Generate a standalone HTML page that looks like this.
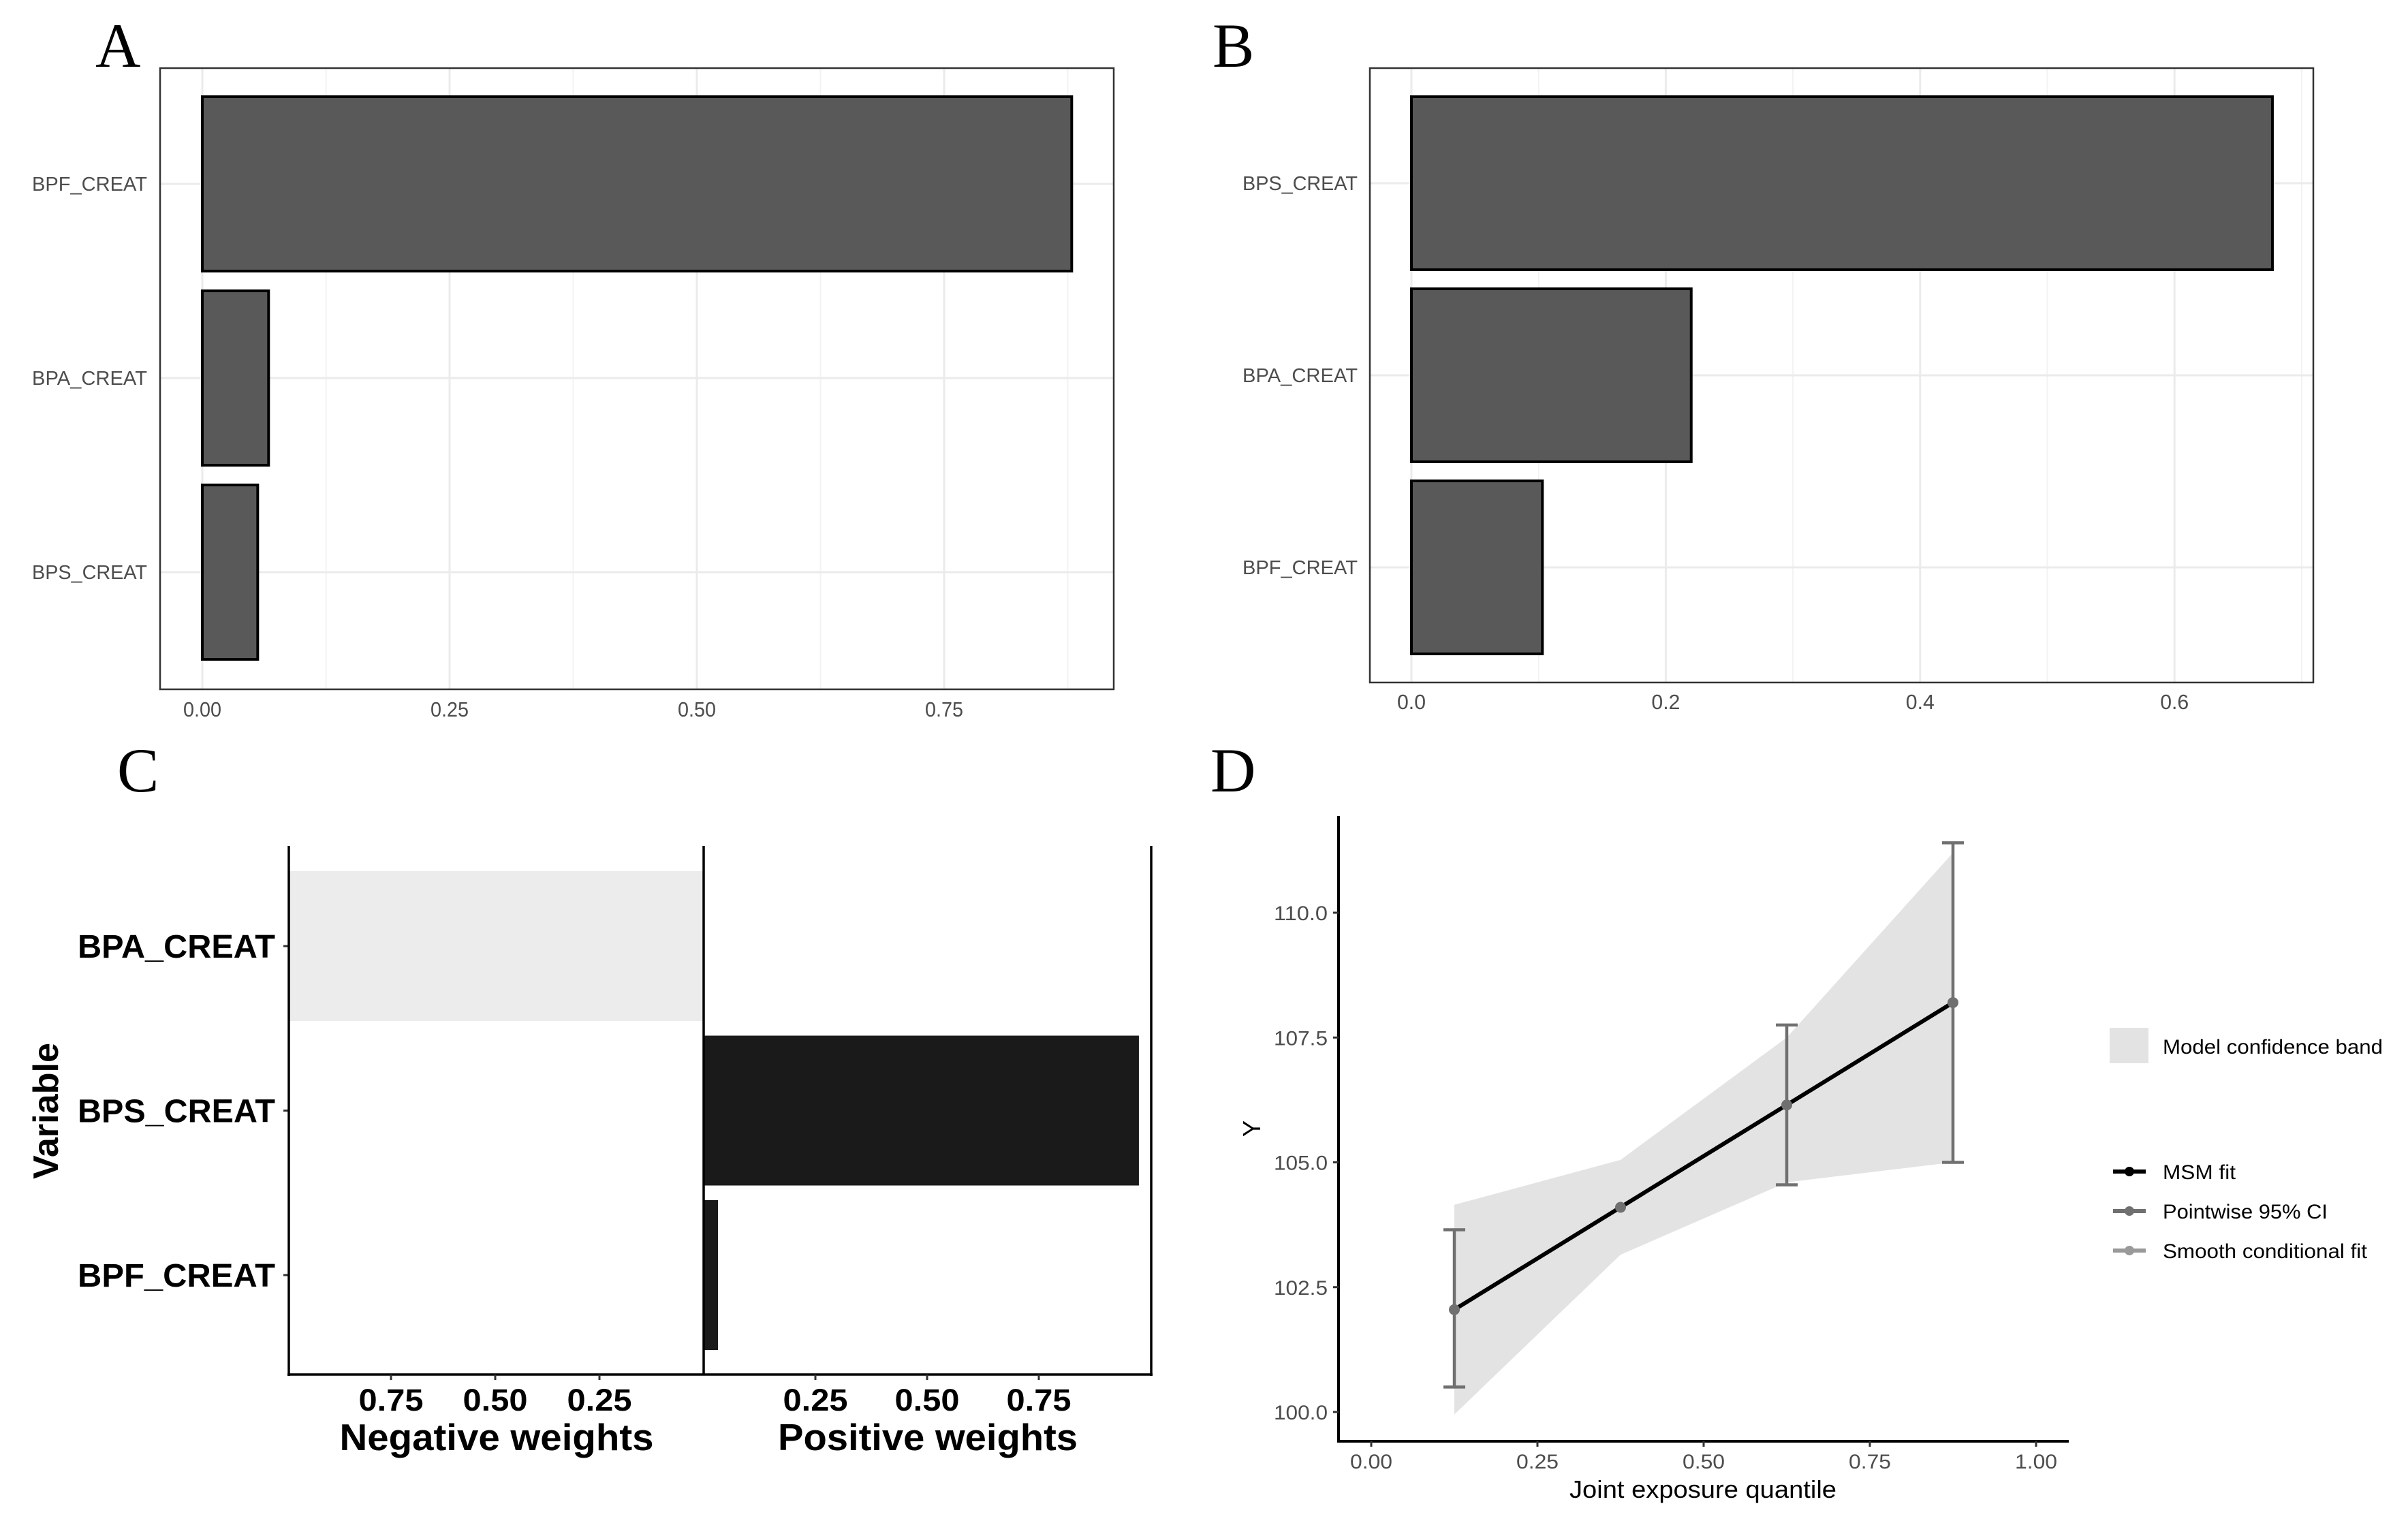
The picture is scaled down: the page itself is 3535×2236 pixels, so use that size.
<!DOCTYPE html>
<html><head><meta charset="utf-8"><style>
html,body{margin:0;padding:0;background:#fff}
svg{display:block}
text{font-family:"Liberation Sans",sans-serif}
</style></head><body>
<svg id="fig" width="3535" height="2236" viewBox="0 0 3535 2236" xmlns="http://www.w3.org/2000/svg">
<rect width="3535" height="2236" fill="#fff"/>
<text x="140" y="98" font-size="92" style="font-family:'Liberation Serif',serif">A</text>
<text x="1780" y="98" font-size="92" style="font-family:'Liberation Serif',serif">B</text>
<text x="172" y="1162" font-size="92" style="font-family:'Liberation Serif',serif">C</text>
<text x="1777" y="1162" font-size="92" style="font-family:'Liberation Serif',serif">D</text>
<g id="pa"></g>
<g id="pb"></g>
<g id="pc"></g>
<g id="pd"></g>
</svg>
<script>
// Panel A data
const aCats = ["BPF_CREAT","BPA_CREAT","BPS_CREAT"];
const aVals = [0.879, 0.067, 0.056];
const aTicks = [0, 0.25, 0.5, 0.75];
const aTickLabels = ["0.00","0.25","0.50","0.75"];
// Panel B data
const bCats = ["BPS_CREAT","BPA_CREAT","BPF_CREAT"];
const bVals = [0.677, 0.22, 0.103];
const bTicks = [0, 0.2, 0.4, 0.6];
const bTickLabels = ["0.0","0.2","0.4","0.6"];
// Panel C data
const cCats = ["BPA_CREAT","BPS_CREAT","BPF_CREAT"];
const cNeg = [0.995, 0, 0];
const cPos = [0, 0.974, 0.032];
const cTicks = [0.25, 0.5, 0.75];
const cTickLabels = ["0.25","0.50","0.75"];
// Panel D data
const dQ = [0.125, 0.375, 0.625, 0.875];
const dFit = [102.05, 104.1, 106.15, 108.2];
const dCiLo = [100.5, null, 104.55, 105.0];
const dCiHi = [103.65, null, 107.75, 111.4];
const dBandQ = [0.125, 0.375, 0.625, 0.875];
const dBandLo = [99.95, 103.15, 104.6, 105.0];
const dBandHi = [104.15, 105.05, 107.5, 111.2];
const dXTicks = [0, 0.25, 0.5, 0.75, 1.0];
const dXTickLabels = ["0.00","0.25","0.50","0.75","1.00"];
const dYTicks = [100, 102.5, 105, 107.5, 110];
const dYTickLabels = ["100.0","102.5","105.0","107.5","110.0"];

const NS="http://www.w3.org/2000/svg";
function mk(parent, tag, attrs, txt){
  const e=document.createElementNS(NS,tag);
  for(const k in attrs) e.setAttribute(k, attrs[k]);
  if(txt!==undefined) e.textContent=txt;
  parent.appendChild(e); return e;
}

function barPanel(g, cats, vals, ticks, tlabels, box, x0, perUnit, catY, halfH, labelRight, tickY, minorStep){
  const X=v=>x0+v*perUnit;
  const Y=i=>catY[0]+i*(catY[1]-catY[0]);
  for(let v=minorStep; X(v)<box.r; v+=minorStep*2){
    const l=mk(g,'line',{x1:X(v),x2:X(v),y1:box.t,y2:box.b,stroke:'#f3f3f3','stroke-width':2});
    
    
  }
  ticks.forEach((t,i)=>{
    const l=mk(g,'line',{x1:X(t),x2:X(t),y1:box.t,y2:box.b,stroke:'#ebebeb','stroke-width':3});
    
    
    const tx=mk(g,'text',{x:X(t),y:tickY,'text-anchor':'middle','font-size':31,fill:'#4d4d4d',textLength:tlabels[i].length*14,lengthAdjust:'spacingAndGlyphs'},tlabels[i]);
    
    
  });
  cats.forEach((c,i)=>{
    const l=mk(g,'line',{x1:box.l,x2:box.r,y1:Y(i),y2:Y(i),stroke:'#ebebeb','stroke-width':3});
    
    
  });
  cats.forEach((c,i)=>{
    const r=mk(g,'rect',{x:X(0),y:Y(i)-halfH,width:X(vals[i])-X(0),height:2*halfH,fill:'#595959',stroke:'#000','stroke-width':4});
    
    
    const tx=mk(g,'text',{x:labelRight,y:Y(i)+10,'text-anchor':'end','font-size':29,fill:'#4d4d4d',textLength:169,lengthAdjust:'spacingAndGlyphs'},c);
    
    
  });
  const b=mk(g,'rect',{x:box.l,y:box.t,width:box.r-box.l,height:box.b-box.t,fill:'none',stroke:'#333','stroke-width':2.5});
  
  
}
barPanel(document.getElementById('pa'), aCats, aVals, aTicks, aTickLabels,
  {l:235,t:100,r:1635,b:1012}, 297, 1452, [270,555], 128, 216, 1052, 0.125);
barPanel(document.getElementById('pb'), bCats, bVals, bTicks, bTickLabels,
  {l:2011,t:100,r:3396,b:1002}, 2072, 1867, [269,551], 127, 1993, 1041, 0.1);

// Panel C
(function(){
  const g=document.getElementById('pc');
  const mid=1033, negPer=612, posPer=656;
  const XN=v=>mid-v*negPer, XP=v=>mid+v*posPer;
  const Y=i=>1389+i*241.5;
  const hh=110;
  cCats.forEach((c,i)=>{
    if(cNeg[i]>0){
      const r=mk(g,'rect',{x:XN(cNeg[i]),y:Y(i)-hh,width:XN(0)-XN(cNeg[i]),height:2*hh,fill:'#ececec'});
      
      
    }
    if(cPos[i]>0){
      const r=mk(g,'rect',{x:XP(0),y:Y(i)-hh,width:XP(cPos[i])-XP(0),height:2*hh,fill:'#1a1a1a'});
      
      
    }
    const tk=mk(g,'line',{x1:416,x2:424,y1:Y(i),y2:Y(i),stroke:'#333','stroke-width':3});
    
    
    const tx=mk(g,'text',{x:404,y:Y(i)+17,'text-anchor':'end','font-size':48,'font-weight':'bold',fill:'#000',textLength:290,lengthAdjust:'spacingAndGlyphs'},c);
    
    
  });
  [[424,1242,424,2020],[1033,1242,1033,2018],[1690,1242,1690,2020],[422,2018,1692,2018]].forEach(a=>{
    const l=mk(g,'line',{x1:a[0],y1:a[1],x2:a[2],y2:a[3],stroke:'#000','stroke-width':3.5});
    
    
  });
  cTicks.forEach((t,i)=>{
    [XN(t),XP(t)].forEach(x=>{
      const l=mk(g,'line',{x1:x,x2:x,y1:2018,y2:2026,stroke:'#333','stroke-width':3});
      
      
      const tx=mk(g,'text',{x:x,y:2071,'text-anchor':'middle','font-size':45,'font-weight':'bold',fill:'#000',textLength:95,lengthAdjust:'spacingAndGlyphs'},cTickLabels[i]);
      
      
    });
  });
  let t=mk(g,'text',{x:729,y:2129,'text-anchor':'middle','font-size':55,'font-weight':'bold',textLength:461,lengthAdjust:'spacingAndGlyphs'},'Negative weights');
  
  
  t=mk(g,'text',{x:1362,y:2129,'text-anchor':'middle','font-size':55,'font-weight':'bold',textLength:440,lengthAdjust:'spacingAndGlyphs'},'Positive weights');
  
  
  t=mk(g,'text',{x:0,y:0,'text-anchor':'middle','font-size':52,'font-weight':'bold',textLength:200,lengthAdjust:'spacingAndGlyphs',transform:'translate(85,1631) rotate(-90)'},'Variable');
  
  
})();

// Panel D
(function(){
  const g=document.getElementById('pd');
  const X=v=>2013+v*976, Y=v=>2073-(v-100)*73.3;
  let pts=dBandQ.map((q,i)=>X(q)+','+Y(dBandHi[i]));
  pts=pts.concat(dBandQ.map((q,i)=>X(q)+','+Y(dBandLo[i])).reverse());
  const band=mk(g,'polygon',{points:pts.join(' '),fill:'#e3e3e3'});
  
  
  dQ.forEach((q,i)=>{
    if(dCiLo[i]===null) return;
    const x=X(q);
    const l=mk(g,'path',{d:`M${x},${Y(dCiLo[i])}V${Y(dCiHi[i])}M${x-16},${Y(dCiLo[i])}h32M${x-16},${Y(dCiHi[i])}h32`,stroke:'#707070','stroke-width':4.5,fill:'none'});
    
    
  });
  const line=mk(g,'polyline',{points:dQ.map((q,i)=>X(q)+','+Y(dFit[i])).join(' '),fill:'none',stroke:'#000','stroke-width':6});
  
  
  dQ.forEach((q,i)=>{
    const c=mk(g,'circle',{cx:X(q),cy:Y(dFit[i]),r:8,fill:'#707070'});
    
    
  });
  const ax=mk(g,'path',{d:'M1965,1198V2116H3037',stroke:'#000','stroke-width':4,fill:'none'});
  
  
  dXTicks.forEach((t,i)=>{
    const l=mk(g,'line',{x1:X(t),x2:X(t),y1:2116,y2:2124,stroke:'#333','stroke-width':3});
    
    
    const tx=mk(g,'text',{x:X(t),y:2156,'text-anchor':'middle','font-size':30,fill:'#4d4d4d',textLength:62,lengthAdjust:'spacingAndGlyphs'},dXTickLabels[i]);
    
    
  });
  dYTicks.forEach((t,i)=>{
    const l=mk(g,'line',{x1:1957,x2:1965,y1:Y(t),y2:Y(t),stroke:'#333','stroke-width':3});
    
    
    const tx=mk(g,'text',{x:1949,y:Y(t)+11,'text-anchor':'end','font-size':30,fill:'#4d4d4d',textLength:79,lengthAdjust:'spacingAndGlyphs'},dYTickLabels[i]);
    
    
  });
  let t=mk(g,'text',{x:2500,y:2199,'text-anchor':'middle','font-size':36,textLength:392,lengthAdjust:'spacingAndGlyphs'},'Joint exposure quantile');
  
  
  t=mk(g,'text',{x:0,y:0,'text-anchor':'middle','font-size':36,transform:'translate(1850,1657) rotate(-90)'},'Y');
  
  
  const lk=mk(g,'rect',{x:3097,y:1509,width:57,height:52,fill:'#e3e3e3'});
  
  
  t=mk(g,'text',{x:3175,y:1547,'font-size':30,textLength:323,lengthAdjust:'spacingAndGlyphs'},'Model confidence band');
  
  
  const leg=[['MSM fit','#000',1720,107],['Pointwise 95% CI','#707070',1778,242],['Smooth conditional fit','#999',1836,300]];
  leg.forEach(e=>{
    const l=mk(g,'line',{x1:3102,x2:3150,y1:e[2],y2:e[2],stroke:e[1],'stroke-width':6});
    
    
    const c=mk(g,'circle',{cx:3126,cy:e[2],r:7,fill:e[1]});
    
    
    const tx=mk(g,'text',{x:3175,y:e[2]+11,'font-size':30,textLength:e[3],lengthAdjust:'spacingAndGlyphs'},e[0]);
    
    
  });
})();
</script>
</body></html>
